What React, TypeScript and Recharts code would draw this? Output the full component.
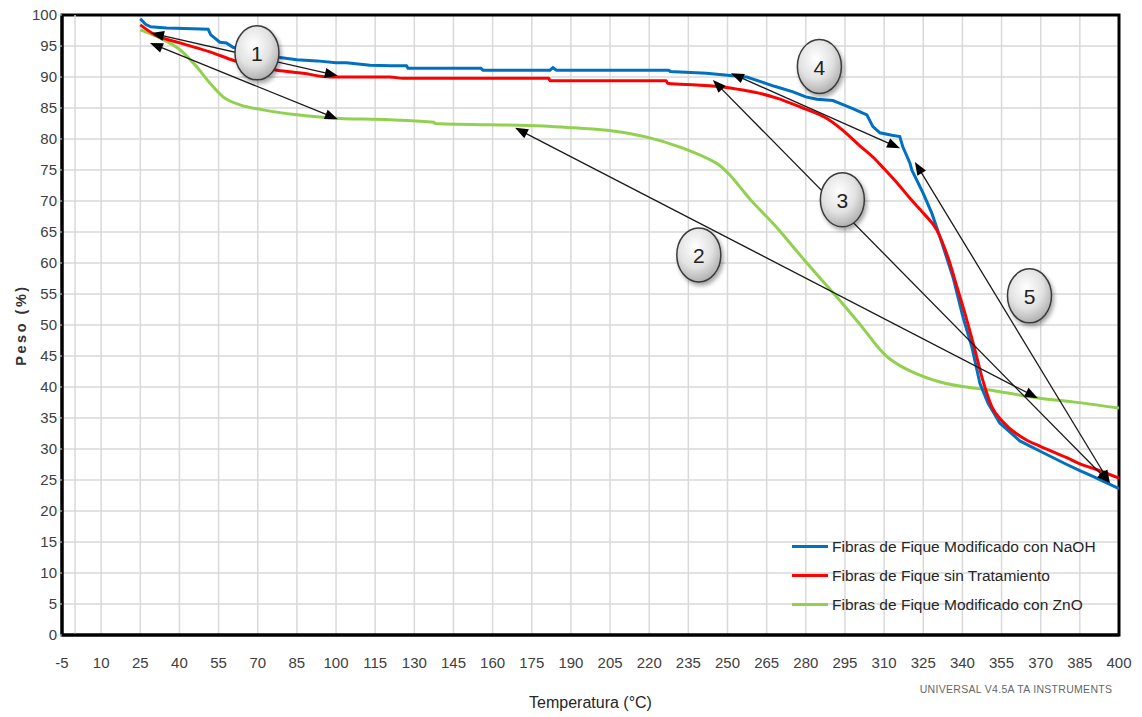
import React from 'react';
import {
  LineChart,
  Line,
  XAxis,
  YAxis,
  CartesianGrid,
  ReferenceLine,
  ReferenceDot,
  ReferenceArea,
  Legend,
} from 'recharts';

// ---------- axis ticks ----------
const xTicks = [-5, 10, 25, 40, 55, 70, 85, 100, 115, 130, 145, 160, 175, 190, 205, 220, 235, 250, 265, 280, 295, 310, 325, 340, 355, 370, 385, 400];
const yTicks = [0, 5, 10, 15, 20, 25, 30, 35, 40, 45, 50, 55, 60, 65, 70, 75, 80, 85, 90, 95, 100];

// ---------- series: Fibras de Fique Modificado con NaOH ----------
const naohTemp = [25, 27, 29, 35, 45, 51, 52, 55.5, 58, 60.5, 63, 66, 70, 77.7, 85, 92.7, 100, 104, 113, 121, 127, 127.6, 155.5, 156.3, 182, 183.1, 184.5, 210, 227.5, 228, 242, 250, 257.4, 262.4, 268, 275.1, 280, 284.2, 290.4, 294, 298, 303.4, 305.7, 308.4, 313, 316, 317.2, 319.9, 320.6, 324.9, 328.3, 331.4, 336.4, 340.2, 343.6, 346.7, 349.8, 354.3, 362, 370, 380, 385, 390, 400];
const naohPeso = [99.4, 98.5, 98.1, 97.9, 97.8, 97.7, 96.8, 95.6, 95.5, 94.8, 94.6, 94.0, 93.6, 93.2, 92.8, 92.6, 92.3, 92.3, 91.9, 91.8, 91.8, 91.4, 91.4, 91.1, 91.1, 91.5, 91.1, 91.1, 91.1, 90.9, 90.6, 90.3, 90.0, 89.3, 88.5, 87.6, 86.8, 86.4, 86.2, 85.6, 84.9, 83.9, 82.0, 81.0, 80.6, 80.4, 78.7, 76.1, 75.0, 71.3, 68.0, 64.2, 57.7, 51.3, 46.5, 40.6, 37.4, 34.2, 31.3, 29.6, 27.5, 26.5, 25.6, 23.6];

// ---------- series: Fibras de Fique sin Tratamiento ----------
const rawTemp = [25, 30.6, 40.2, 52.8, 60.5, 70, 77.4, 87.3, 97.7, 120.7, 125.6, 181.5, 182, 226.5, 227, 238.3, 248, 255.9, 262, 268.9, 277.7, 288.1, 296.9, 300.7, 305.7, 310, 315, 320, 324.9, 330.2, 334.4, 338.3, 341.7, 344.8, 347.8, 351.3, 355.5, 364.7, 370, 380, 385, 390, 400];
const rawPeso = [98.4, 96.8, 95.5, 93.9, 92.7, 91.6, 91.1, 90.6, 90.0, 90.0, 89.8, 89.8, 89.4, 89.4, 89.0, 88.7, 88.4, 87.9, 87.4, 86.6, 85.2, 83.3, 80.4, 78.9, 77.1, 75.2, 72.9, 70.4, 68.1, 65.3, 61.0, 55.6, 50.8, 46.0, 41.1, 36.8, 34.4, 31.4, 30.4, 28.6, 27.6, 26.9, 25.3];

// ---------- series: Fibras de Fique Modificado con ZnO ----------
const znoTemp = [25, 32.5, 40.2, 46.7, 51.7, 56.7, 63.2, 72, 85, 97.7, 120.7, 137.5, 138, 179.3, 190.8, 206.1, 219.1, 231.8, 242.1, 246.5, 250.9, 254.5, 258.6, 267.4, 280.4, 291.9, 303.4, 307.5, 311.1, 315.5, 321, 331.4, 350.5, 369.7, 382.3, 400];
const znoPeso = [97.6, 96.3, 94.4, 91.6, 89.0, 86.8, 85.5, 84.7, 83.9, 83.4, 83.1, 82.7, 82.5, 82.1, 81.8, 81.3, 80.3, 78.7, 76.9, 75.9, 74.2, 72.4, 70.3, 66.4, 60.0, 54.5, 48.7, 46.5, 44.9, 43.6, 42.4, 40.8, 39.5, 38.2, 37.6, 36.6];

const seriesNames = ['Fibras de Fique Modificado con NaOH', 'Fibras de Fique sin Tratamiento', 'Fibras de Fique Modificado con ZnO'];
const seriesColors = ['#0070C0', '#FF0000', '#92D050'];

// ---------- annotations (data coordinates) ----------
const arrowStartT = [29.1, 28.7, 168.6, 244.4, 251.3, 321.8];
const arrowStartP = [97.1, 95.5, 81.8, 89.5, 90.6, 76.3];
const arrowEndT = [100.7, 100.7, 368.9, 396.5, 316.1, 396.5];
const arrowEndP = [90.2, 83.2, 38.2, 24.5, 78.5, 24.5];

const badgeLabels = ['1', '2', '3', '4', '5'];
const badgeT = [69.7, 239.0, 294.0, 285.2, 365.7];
const badgeP = [93.9, 61.3, 70.2, 91.7, 54.7];

const zip = (t: number[], p: number[]) => t.map((v, i) => ({ t: v, p: p[i] }));
const naohData = zip(naohTemp, naohPeso);
const rawData = zip(rawTemp, rawPeso);
const znoData = zip(znoTemp, znoPeso);

const FONT = "'Liberation Sans', Arial, sans-serif";

const ArrowShape = (props: any) => {
  const { x1, y1, x2, y2 } = props;
  if ([x1, y1, x2, y2].some((v) => typeof v !== 'number' || isNaN(v))) return null;
  const dx = x2 - x1;
  const dy = y2 - y1;
  const len = Math.hypot(dx, dy) || 1;
  const ux = dx / len;
  const uy = dy / len;
  const L = 13;
  const W = 5;
  const head = (tx: number, ty: number, ddx: number, ddy: number) => {
    const bx = tx - ddx * L;
    const by = ty - ddy * L;
    return `${tx},${ty} ${bx - ddy * W},${by + ddx * W} ${bx + ddy * W},${by - ddx * W}`;
  };
  return (
    <g>
      <line x1={x1 + ux * 6} y1={y1 + uy * 6} x2={x2 - ux * 6} y2={y2 - uy * 6} stroke="#1a1a1a" strokeWidth={1.3} />
      <polygon points={head(x2, y2, ux, uy)} fill="#000" />
      <polygon points={head(x1, y1, -ux, -uy)} fill="#000" />
    </g>
  );
};

const makeBadge = (label: string, idx: number) => (props: any) => {
  const { cx, cy } = props;
  if (typeof cx !== 'number' || typeof cy !== 'number') return null;
  const gid = `badgeGrad${idx}`;
  const fid = `badgeShadow${idx}`;
  return (
    <g>
      <defs>
        <radialGradient id={gid} cx="42%" cy="35%" r="70%">
          <stop offset="0%" stopColor="#ffffff" />
          <stop offset="55%" stopColor="#e2e2e2" />
          <stop offset="100%" stopColor="#a8a8a8" />
        </radialGradient>
        <filter id={fid} x="-50%" y="-50%" width="200%" height="200%">
          <feDropShadow dx="2" dy="3" stdDeviation="2" floodColor="#000" floodOpacity="0.35" />
        </filter>
      </defs>
      <ellipse cx={cx} cy={cy} rx={22} ry={27} fill={`url(#${gid})`} stroke="#3a3a3a" strokeWidth={1.5} filter={`url(#${fid})`} />
      <text x={cx} y={cy + 1} textAnchor="middle" dominantBaseline="central" fontSize={21} fill="#222" fontFamily={FONT}>
        {label}
      </text>
    </g>
  );
};

const YLabel = (props: any) => {
  const vb = props.viewBox || {};
  const x = (vb.x ?? 0) + 14;
  const y = (vb.y ?? 0) + (vb.height ?? 0) / 2;
  return (
    <text x={x} y={y} transform={`rotate(-90 ${x} ${y})`} textAnchor="middle" dominantBaseline="middle" fontSize={14.5} fontWeight="bold" letterSpacing={2.5} fill="#333" fontFamily={FONT}>
      Peso  (%)
    </text>
  );
};

const XLabel = (props: any) => {
  const vb = props.viewBox || {};
  const x0 = vb.x ?? 0;
  const y0 = vb.y ?? 0;
  const w = vb.width ?? 0;
  return (
    <g>
      <text x={x0 + w / 2} y={y0 + 69} textAnchor="middle" dominantBaseline="middle" fontSize={16} fill="#262626" fontFamily={FONT}>
        Temperatura (°C)
      </text>
      <text x={x0 + w - 103} y={y0 + 55} textAnchor="middle" dominantBaseline="middle" fontSize={10.5} fill="#666" letterSpacing={0.3} fontFamily={FONT}>
        UNIVERSAL  V4.5A TA INSTRUMENTS
      </text>
    </g>
  );
};

const renderLegend = () => (
  <div style={{ fontFamily: FONT, fontSize: 15.5, color: '#262626' }}>
    {seriesNames.map((n, i) => (
      <div key={n} style={{ display: 'flex', alignItems: 'center', height: 29, whiteSpace: 'nowrap' }}>
        <span style={{ display: 'inline-block', width: 36, height: 3, background: seriesColors[i], marginRight: 4 }} />
        {n}
      </div>
    ))}
  </div>
);

export default function App() {
  return (
    <div style={{ fontFamily: FONT }}>
      <style>{'svg.recharts-surface { overflow: visible; }'}</style>
      <LineChart width={1134} height={709} margin={{ top: 7, right: 23, bottom: 0, left: 0 }} style={{ fontFamily: FONT, overflow: 'visible' }}>
        <CartesianGrid stroke="#d9d9d9" strokeWidth={1.5} />
        <ReferenceLine x={0} stroke="#d9d9d9" strokeWidth={1.5} />
        <XAxis
          type="number"
          dataKey="t"
          domain={[-5, 400]}
          ticks={xTicks}
          interval={0}
          allowDataOverflow
          tick={{ fill: '#404040', fontSize: 15 }}
          tickLine={false}
          tickSize={6}
          tickMargin={16}
          axisLine={{ stroke: '#000', strokeWidth: 3 }}
          height={82}
          label={XLabel}
        />
        <YAxis
          type="number"
          domain={[0, 100]}
          ticks={yTicks}
          interval={0}
          allowDataOverflow
          tick={{ fill: '#404040', fontSize: 15 }}
          tickLine={{ stroke: '#d9d9d9' }}
          tickSize={4}
          tickMargin={1}
          axisLine={{ stroke: '#000', strokeWidth: 3 }}
          width={54}
          label={YLabel}
        />
        <Line data={znoData} dataKey="p" name={seriesNames[2]} type="monotone" stroke={seriesColors[2]} strokeWidth={3} dot={false} isAnimationActive={false} />
        <Line data={naohData} dataKey="p" name={seriesNames[0]} type="linear" stroke={seriesColors[0]} strokeWidth={3} dot={false} isAnimationActive={false} />
        <Line data={rawData} dataKey="p" name={seriesNames[1]} type="monotone" stroke={seriesColors[1]} strokeWidth={3} dot={false} isAnimationActive={false} />
        <ReferenceArea x1={-5} x2={400} y1={0} y2={100} fill="none" fillOpacity={0} stroke="#000" strokeWidth={3} ifOverflow="visible" />
        {arrowStartT.map((t, i) => (
          <ReferenceLine
            key={`arrow${i}`}
            segment={[
              { x: t, y: arrowStartP[i] },
              { x: arrowEndT[i], y: arrowEndP[i] },
            ]}
            shape={ArrowShape}
            ifOverflow="visible"
          />
        ))}
        {badgeLabels.map((lab, i) => (
          <ReferenceDot key={`badge${i}`} x={badgeT[i]} y={badgeP[i]} r={22} shape={makeBadge(lab, i)} ifOverflow="visible" />
        ))}
        <Legend layout="vertical" align="center" verticalAlign="middle" content={renderLegend} wrapperStyle={{ left: 784, top: 524, width: 340 }} />
      </LineChart>
    </div>
  );
}
